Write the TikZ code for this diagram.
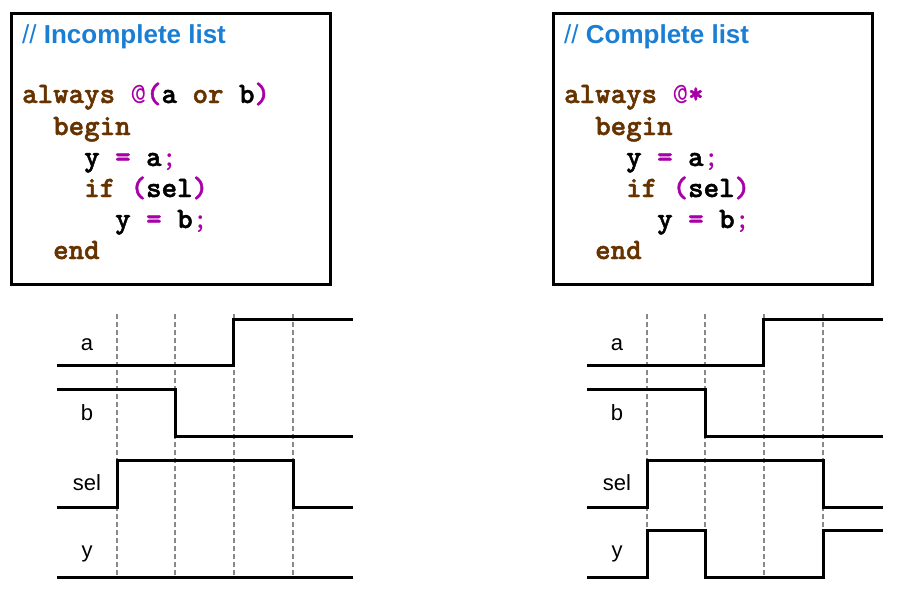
\documentclass[tikz,border=0pt]{standalone}
\usepackage{fontspec}
\setmainfont{Liberation Sans}
\newfontfamily\codefont{lmmonolt10-bold.otf}[FakeBold=1.6]
\newfontfamily\codelight{lmmono10-regular.otf}
\definecolor{kw}{HTML}{663300}
\definecolor{op}{HTML}{A800A8}
\definecolor{cmt}{HTML}{1A7FD4}
\definecolor{grid}{HTML}{888888}
\newcommand{\K}[1]{\textcolor{kw}{#1}}
\newcommand{\Op}[1]{\textcolor{op}{#1}}
\newcommand{\On}[1]{\textcolor{op}{\codelight #1}}
\tikzset{
  codebox/.style={draw, line width=3pt, minimum width=319pt, minimum height=271pt, anchor=north west, inner sep=0pt},
  title/.style={anchor=base west, inner sep=0pt, text=cmt, font=\fontsize{26}{30}\selectfont},
  code/.style={anchor=base west, inner sep=0pt, font=\codefont\fontsize{29.5}{32}\selectfont},
  lbl/.style={anchor=base, inner sep=0pt, font=\fontsize{22}{26}\selectfont},
  sig/.style={line width=3pt, line join=miter, line cap=rect},
  gridline/.style={grid, line width=1.1pt, dash pattern=on 5pt off 3pt}
}
\begin{document}
\begin{tikzpicture}[x=1pt,y=-1pt]
\useasboundingbox (0,0) rectangle (900,589);
% ---------- left box ----------
\node[codebox] (boxL) at (10,12) {};
\node[title] (tL) at (22,43) {// \textbf{Incomplete list}};
\node[code] (L1) at (22,103) {\K{always} \On{@}\Op{(}a \K{or} b\Op{)}};
\node[code] (L2) at (53,135) {\K{begin}};
\node[code] (L3) at (84,166) {y \Op{=} a\On{;}};
\node[code] (L4) at (84,197) {\K{if} \Op{(}sel\Op{)}};
\node[code] (L5) at (115,228) {y \Op{=} b\On{;}};
\node[code] (L6) at (53,259) {\K{end}};
% ---------- right box ----------
\node[codebox] (boxR) at (552,12) {};
\node[title] (tR) at (564,43) {// \textbf{Complete list}};
\node[code] (R1) at (564,103) {\K{always} \On{@}\Op{*}};
\node[code] (R2) at (595,135) {\K{begin}};
\node[code] (R3) at (626,166) {y \Op{=} a\On{;}};
\node[code] (R4) at (626,197) {\K{if} \Op{(}sel\Op{)}};
\node[code] (R5) at (657,228) {y \Op{=} b\On{;}};
\node[code] (R6) at (595,259) {\K{end}};
% ---------- left waveforms ----------
\node[lbl] (aL) at (87,350) {a};
\node[lbl] (bL) at (87,420) {b};
\node[lbl] (sL) at (87,490) {sel};
\node[lbl] (yL) at (87,557) {y};
\foreach \x in {117,175,234,293} \draw[gridline] (\x,314) -- (\x,577);
\draw[sig] (58,365) -- (233,365) -- (233,319) -- (351,319);
\draw[sig] (58,389) -- (175,389) -- (175,436) -- (351,436);
\draw[sig] (58,507) -- (117,507) -- (117,460) -- (293,460) -- (293,507) -- (351,507);
\draw[sig] (58,577) -- (351,577);
% ---------- right waveforms ----------
\node[lbl] (aR) at (617,350) {a};
\node[lbl] (bR) at (617,420) {b};
\node[lbl] (sR) at (617,490) {sel};
\node[lbl] (yR) at (617,557) {y};
\foreach \x in {647,705,764,823} \draw[gridline] (\x,314) -- (\x,577);
\draw[sig] (588,365) -- (763,365) -- (763,319) -- (881,319);
\draw[sig] (588,389) -- (705,389) -- (705,436) -- (881,436);
\draw[sig] (588,507) -- (647,507) -- (647,460) -- (823,460) -- (823,507) -- (881,507);
\draw[sig] (588,577) -- (647,577) -- (647,530) -- (705,530) -- (705,577) -- (823,577) -- (823,530) -- (881,530);
\end{tikzpicture}
\end{document}
